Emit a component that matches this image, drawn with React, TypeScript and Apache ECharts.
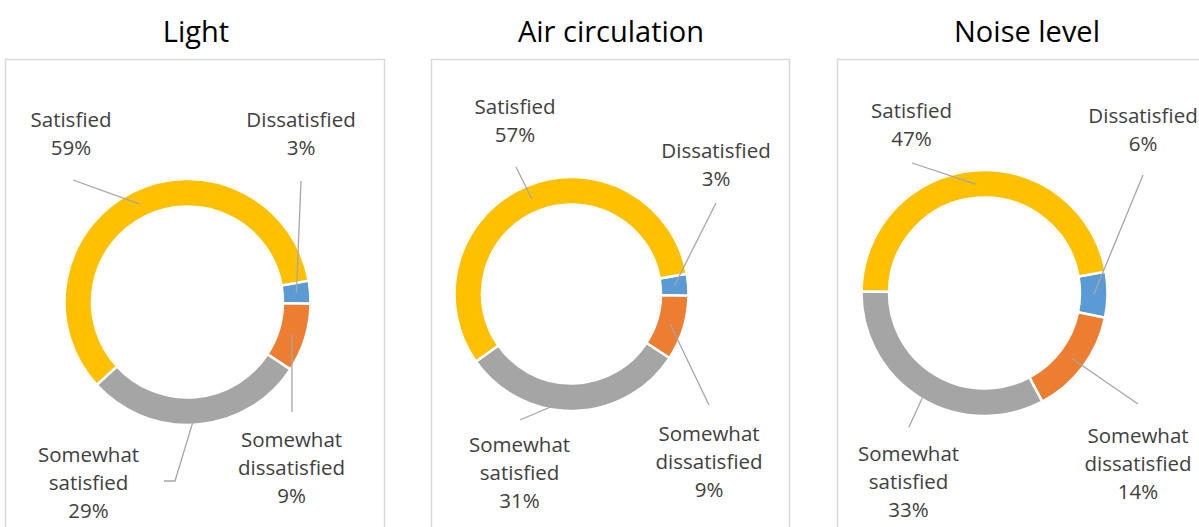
import React, { useEffect, useRef } from 'react';
import * as echarts from 'echarts';

// ---- data ----
const categories = ['Satisfied', 'Somewhat satisfied', 'Somewhat dissatisfied', 'Dissatisfied'];
const chartTitles = ['Light', 'Air circulation', 'Noise level'];
const lightValues = [59, 29, 9, 3];
const airValues = [57, 31, 9, 3];
const noiseValues = [47, 33, 14, 6];
const seriesValues = [lightValues, airValues, noiseValues];

// ---- styles / layout ----
const sliceColors: Record<string, string> = {
  Satisfied: '#ffc000',
  'Somewhat satisfied': '#a5a5a5',
  'Somewhat dissatisfied': '#ed7d31',
  Dissatisfied: '#5b9bd5',
};
const START_ANGLE = 10;
const FONT = '"Open Sans", "Noto Sans", sans-serif';

const panels = [
  { box: [5.5, 59.5, 379, 520], titleX: 196, center: [187.5, 302], radius: [95.5, 123] },
  { box: [431.5, 59.5, 358, 520], titleX: 611, center: [571.5, 294], radius: [89.5, 117] },
  { box: [837.5, 59.5, 420, 520], titleX: 1027, center: [984.5, 293], radius: [95.5, 123] },
];

// label block centres, in categories order
const labelPos = [
  [[71, 133], [88.5, 482], [291.5, 467], [301, 133]],
  [[515, 120], [519.5, 471.5], [709, 461], [716, 163.5]],
  [[911.5, 124], [908.5, 481], [1138, 463], [1143, 128.5]],
];
// leader-line points on the label side, in categories order
const leaderEnds = [
  [[[73, 180]], [[175, 481], [164, 481]], [[292, 412]], [[301, 181]]],
  [[[516, 167]], [[520, 420]], [[709, 405]], [[716, 203]]],
  [[[912, 163]], [[909, 427]], [[1138, 404]], [[1143, 175]]],
];

export default function App() {
  const ref = useRef<HTMLDivElement>(null);

  useEffect(() => {
    if (!ref.current) return;
    const chart = echarts.init(ref.current, undefined, { renderer: 'svg' });

    const order = [...categories].reverse(); // clockwise from start angle
    const graphics: any[] = [];
    const series: any[] = [];

    panels.forEach((p, si) => {
      const values = seriesValues[si];
      graphics.push({
        type: 'rect',
        silent: true,
        shape: { x: p.box[0], y: p.box[1], width: p.box[2], height: p.box[3] },
        style: { fill: 'none', stroke: '#d9d9d9', lineWidth: 1.5 },
      });
      graphics.push({
        type: 'text',
        silent: true,
        x: p.titleX,
        y: 30,
        style: {
          text: chartTitles[si],
          fill: '#000000',
          font: `29px ${FONT}`,
          align: 'center',
          verticalAlign: 'middle',
        },
      });

      const data = order.map((name) => ({
        name,
        value: values[categories.indexOf(name)],
        itemStyle: { color: sliceColors[name] },
      }));
      const total = data.reduce((s, d) => s + d.value, 0);

      // leader lines from mid-ring at each slice's mid angle
      let cum = 0;
      const midR = (p.radius[0] + p.radius[1]) / 2;
      data.forEach((d) => {
        const mid = START_ANGLE - ((cum + d.value / 2) / total) * 360;
        cum += d.value;
        const rad = (mid * Math.PI) / 180;
        const ringPt = [p.center[0] + midR * Math.cos(rad), p.center[1] - midR * Math.sin(rad)];
        const ci = categories.indexOf(d.name);
        graphics.push({
          type: 'polyline',
          silent: true,
          z: 100,
          shape: { points: [ringPt, ...leaderEnds[si][ci]] },
          style: { stroke: '#a6a6a6', lineWidth: 1.3, fill: 'none' },
        });
      });

      series.push({
        type: 'pie',
        center: p.center,
        radius: p.radius,
        startAngle: START_ANGLE,
        clockwise: true,
        avoidLabelOverlap: false,
        silent: true,
        emphasis: { disabled: true },
        itemStyle: { borderColor: '#ffffff', borderWidth: 2.5 },
        label: {
          show: true,
          position: 'outside',
          formatter: (prm: any) => `${prm.name.replace(' ', '\n')}\n${prm.value}%`,
          color: '#404040',
          fontSize: 20.5,
          fontFamily: FONT,
          lineHeight: 28,
          align: 'center',
        },
        labelLine: { show: false },
        labelLayout: (prm: any) => {
          const ci = categories.indexOf(order[prm.dataIndex]);
          const pos = labelPos[si][ci];
          return { x: pos[0], y: pos[1], align: 'center', verticalAlign: 'middle' };
        },
        data,
      });
    });

    chart.setOption({
      animation: false,
      backgroundColor: '#ffffff',
      series,
      graphic: { elements: graphics },
    });

    return () => chart.dispose();
  }, []);

  return (
    <div
      ref={ref}
      style={{ position: 'absolute', left: 0, top: 0, width: 1199, height: 527 }}
    />
  );
}
